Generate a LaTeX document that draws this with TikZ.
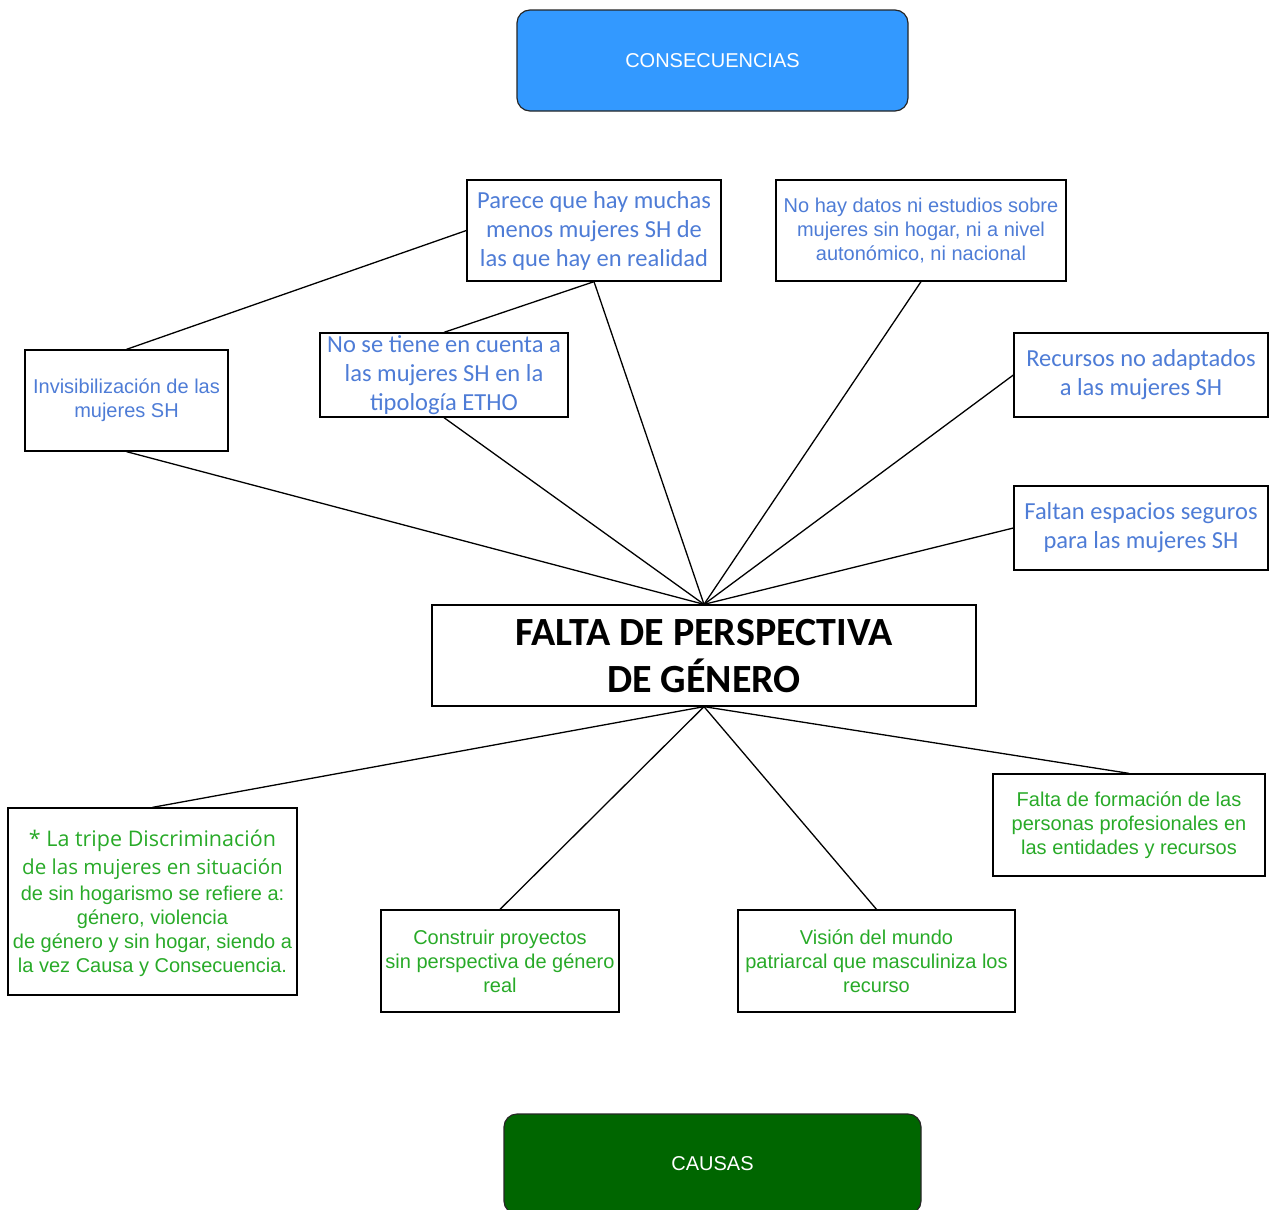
\documentclass[tikz,border=0pt]{standalone}
\usepackage{fontspec}
\setmainfont{Liberation Sans}
\newfontfamily\calfont{Carlito}
\newfontfamily\arifont{Liberation Sans}
\newfontfamily\osfont{Open Sans}
\definecolor{conblue}{RGB}{51,153,255}
\definecolor{caugreen}{RGB}{0,102,0}
\definecolor{txtblue}{RGB}{78,124,214}
\definecolor{txtgreen}{RGB}{40,170,40}
\begin{document}
\begin{tikzpicture}[x=1pt,y=-1pt,
  box/.style={draw=black, line width=1.3pt, rectangle, inner sep=0pt, align=center},
  head/.style={draw=black!85, line width=1.2pt, rectangle, rounded corners=13pt, inner sep=0pt,
    text=white, font=\arifont\fontsize{20}{24}\selectfont},
  conbox/.style={box, text=txtblue},
  caubox/.style={box, text=txtgreen, font=\arifont\fontsize{20}{24}\selectfont},
  calib/.style={font=\calfont\fontsize{24.5}{29}\selectfont},
  arial/.style={font=\arifont\fontsize{20}{24}\selectfont},
  link/.style={draw=black, line width=1.3pt}]
\useasboundingbox (0,0) rectangle (1269,1210);

% header boxes
\node[head, fill=conblue, minimum width=391pt, minimum height=101pt] (cons) at (712.5,60.5) {CONSECUENCIAS};
\node[head, fill=caugreen, minimum width=417pt, minimum height=100pt] (caus) at (712.5,1164) {CAUSAS};

% central problem
\node[box, minimum width=544pt, minimum height=101pt, text depth=-4pt,
  font=\calfont\bfseries\fontsize{40}{47}\selectfont] (main) at (704,655.5)
  {FALTA DE PERSPECTIVA\\DE GÉNERO};

% consequences
\node[conbox, calib, minimum width=254pt, minimum height=101pt] (parece) at (594,230.5)
  {Parece que hay muchas\\menos mujeres SH de\\las que hay en realidad};
\node[conbox, arial, minimum width=290pt, minimum height=101pt] (datos) at (921,230.5)
  {No hay datos ni estudios sobre\\mujeres sin hogar, ni a nivel\\autonómico, ni nacional};
\node[conbox, arial, minimum width=203pt, minimum height=101pt] (invis) at (126.5,400.5)
  {Invisibilización de las\\mujeres SH};
\node[conbox, calib, minimum width=248pt, minimum height=84pt] (etho) at (444,375)
  {No se tiene en cuenta a\\las mujeres SH en la\\tipología ETHO};
\node[conbox, calib, minimum width=254pt, minimum height=84pt] (recursos) at (1141,375)
  {Recursos no adaptados\\a las mujeres SH};
\node[conbox, calib, minimum width=254pt, minimum height=84pt] (espacios) at (1141,528)
  {Faltan espacios seguros\\para las mujeres SH};

% causes
\node[box, text=txtgreen, minimum width=289pt, minimum height=187pt, text depth=-4pt,
  font=\arifont\fontsize{20}{24}\selectfont] (tripe) at (152.5,901.5)
  {{\osfont\fontsize{21.5}{24}\selectfont * La tripe Discriminación}\\[4pt]
   {\osfont\fontsize{20.6}{24}\selectfont de las mujeres en situación}\\[2pt]
   de sin hogarismo se refiere a:\\
   género, violencia\\
   de género y sin hogar, siendo a\\
   la vez Causa y Consecuencia.};
\node[caubox, minimum width=238pt, minimum height=102pt] (proyectos) at (500,961)
  {Construir proyectos\\sin perspectiva de género\\real};
\node[caubox, minimum width=277pt, minimum height=102pt] (vision) at (876.5,961)
  {Visión del mundo\\patriarcal que masculiniza los\\recurso};
\node[caubox, minimum width=272pt, minimum height=102pt] (formacion) at (1129,825)
  {Falta de formación de las\\personas profesionales en\\las entidades y recursos};

% connectors above the central box
\draw[link] (invis.north) -- (parece.west);
\draw[link] (parece.south) -- (etho.north);
\draw[link] (invis.south) -- (main.north);
\draw[link] (parece.south) -- (main.north);
\draw[link] (etho.south) -- (main.north);
\draw[link] (datos.south) -- (main.north);
\draw[link] (recursos.west) -- (main.north);
\draw[link] (espacios.west) -- (main.north);

% connectors below the central box
\draw[link] (main.south) -- (tripe.north);
\draw[link] (main.south) -- (proyectos.north);
\draw[link] (main.south) -- (vision.north);
\draw[link] (main.south) -- (formacion.north);
\end{tikzpicture}
\end{document}
